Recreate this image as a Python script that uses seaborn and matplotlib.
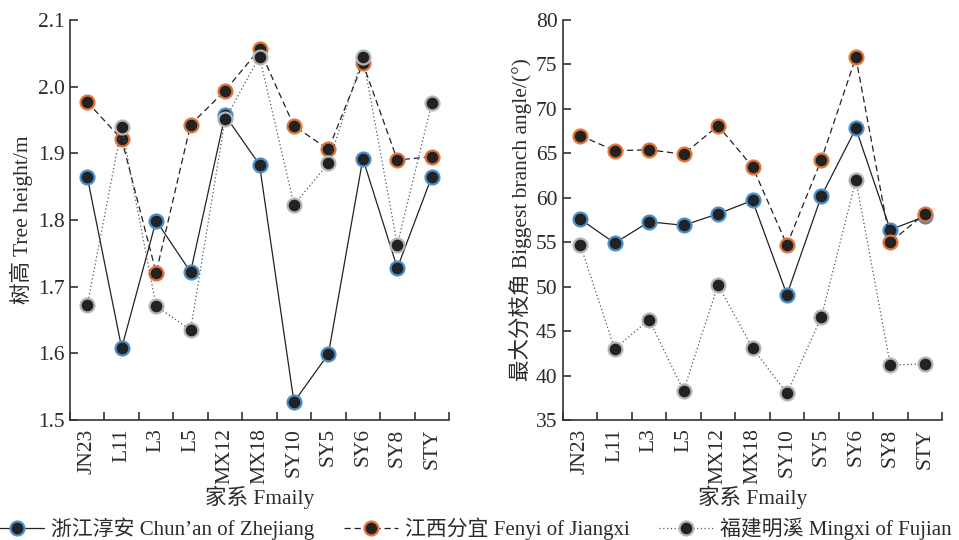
import matplotlib
matplotlib.use("Agg")
import numpy as np
import pandas as pd
import matplotlib.pyplot as plt
import seaborn as sns
from matplotlib.lines import Line2D

sns.set_theme(style="ticks")
plt.rcParams['font.family'] = ['Liberation Serif', 'Noto Sans CJK SC']

families = ["JN23", "L11", "L3", "L5", "MX12", "MX18", "SY10", "SY5", "SY6", "SY8", "STY"]

height_zhejiang = [1.865, 1.608, 1.799, 1.722, 1.957, 1.883, 1.527, 1.599, 1.892, 1.728, 1.865]
height_jiangxi = [1.977, 1.921, 1.721, 1.943, 1.994, 2.056, 1.941, 1.906, 2.035, 1.890, 1.895]
height_fujian = [1.672, 1.939, 1.671, 1.635, 1.951, 2.045, 1.823, 1.885, 2.045, 1.763, 1.975]

angle_zhejiang = [57.6, 54.9, 57.3, 56.9, 58.2, 59.7, 49.1, 60.2, 67.8, 56.4, 57.9]
angle_jiangxi = [67.0, 65.3, 65.4, 64.9, 68.1, 63.5, 54.7, 64.3, 75.8, 55.0, 58.2]
angle_fujian = [54.7, 43.0, 46.3, 38.3, 50.2, 43.1, 38.0, 46.6, 62.0, 41.2, 41.3]

series_names = ["浙江淳安 Chun\u2019an of Zhejiang", "江西分宜 Fenyi of Jiangxi", "福建明溪 Mingxi of Fujian"]
edge_colors = ["#4a8fc9", "#e2753a", "#b5b5b5"]
line_styles = ["-", (0, (5, 3)), (0, (1, 2))]
line_colors = ["#222222", "#222222", "#555555"]

text_color = "#2b2b2b"
fs = 15.5

fig = plt.figure(figsize=(9.59, 5.40), dpi=100)
ax1 = fig.add_axes([70 / 959, 120 / 540, 379 / 959, 400 / 540])
ax2 = fig.add_axes([563 / 959, 120 / 540, 379 / 959, 400 / 540])


def draw_panel(ax, data_list, ylim, yticks, yfmt, ylabel):
    for vals, name, ec, ls, lc in zip(data_list, series_names, edge_colors, line_styles, line_colors):
        df = pd.DataFrame({"family": families, "value": vals})
        sns.lineplot(data=df, x="family", y="value", ax=ax, color=lc, linestyle=ls,
                     linewidth=0.9, marker="o", markersize=10, markerfacecolor="#222222",
                     markeredgecolor=ec, markeredgewidth=1.6, sort=False, label=name)
    ax.set_xlim(-0.5, len(families) - 0.5)
    ax.set_ylim(*ylim)
    ax.set_yticks(yticks)
    ax.set_yticklabels([yfmt.format(v) for v in yticks], fontsize=fs, color=text_color)
    ax.set_xticks(range(len(families)))
    ax.set_xticklabels(families, rotation=90, fontsize=fs, color=text_color)
    ax.set_xticks(np.arange(-0.5, len(families)), minor=True)
    ax.tick_params(axis="x", which="major", length=0, pad=6)
    ax.tick_params(axis="x", which="minor", direction="in", length=6, width=1.2, color="#333333")
    ax.tick_params(axis="y", which="major", direction="in", length=6, width=1.2, color="#333333", pad=4)
    ax.set_xlabel("家系 Fmaily", fontsize=fs, color=text_color, labelpad=1)
    ax.set_ylabel(ylabel, fontsize=fs, color=text_color, labelpad=3)
    for s in ["top", "right"]:
        ax.spines[s].set_visible(False)
    for s in ["left", "bottom"]:
        ax.spines[s].set_linewidth(1.2)
        ax.spines[s].set_color("#333333")
    ax.get_legend().remove()


draw_panel(ax1, [height_zhejiang, height_jiangxi, height_fujian], (1.5, 2.1),
           [1.5, 1.6, 1.7, 1.8, 1.9, 2.0, 2.1], "{:.1f}", "树高 Tree height/m")
draw_panel(ax2, [angle_zhejiang, angle_jiangxi, angle_fujian], (35, 80),
           [35, 40, 45, 50, 55, 60, 65, 70, 75, 80], "{:.0f}", "最大分枝角 Biggest branch angle/(°)")

handles = [Line2D([], [], color=lc, linestyle=ls, linewidth=0.9, marker="o", markersize=10,
                  markerfacecolor="#222222", markeredgecolor=ec, markeredgewidth=1.6)
           for ec, ls, lc in zip(edge_colors, line_styles, line_colors)]
leg = fig.legend(handles, series_names, loc="lower center", bbox_to_anchor=(0.491, -0.035), ncol=3,
                 frameon=False, fontsize=15, handlelength=2.6, handletextpad=0.35, columnspacing=1.4)
for t in leg.get_texts():
    t.set_color(text_color)

fig.savefig("out.png", dpi=100)
